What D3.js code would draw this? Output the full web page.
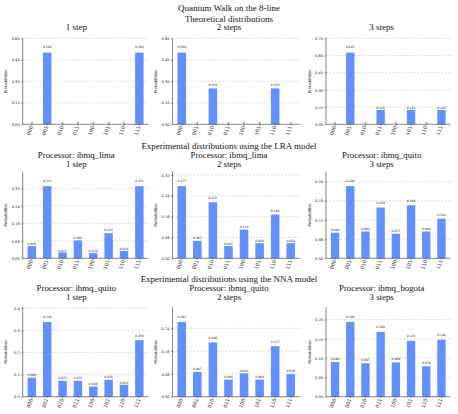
<!DOCTYPE html>
<html><head><meta charset="utf-8">
<script src="https://cdn.jsdelivr.net/npm/d3@7"></script>
<style>html,body{margin:0;padding:0;background:#fff;}svg{display:block;}</style>
</head><body>
<svg id="c" width="458" height="414"></svg>
<script>
// ---- data ----
const states = ["000","001","010","011","100","101","110","111"];
const theory1 = [0, 0.5, 0, 0, 0, 0, 0, 0.5];
const theory2 = [0.5, 0, 0.25, 0, 0, 0, 0.25, 0];
const theory3 = [0, 0.625, 0, 0.125, 0, 0.125, 0, 0.125];
const lraLima1 = [0.056, 0.331, 0.027, 0.082, 0.024, 0.115, 0.034, 0.331];
const lraLima2 = [0.277, 0.067, 0.215, 0.047, 0.110, 0.058, 0.168, 0.058];
const lraQuito3 = [0.080, 0.226, 0.084, 0.159, 0.077, 0.166, 0.084, 0.124];
const nnaQuito1 = [0.086, 0.338, 0.072, 0.072, 0.046, 0.076, 0.054, 0.256];
const nnaQuito2 = [0.262, 0.087, 0.190, 0.060, 0.082, 0.060, 0.177, 0.079];
const nnaBogota3 = [0.090, 0.194, 0.087, 0.168, 0.089, 0.145, 0.079, 0.148];

const ticksT12 = [0, 0.15, 0.30, 0.45, 0.60];
const ticksT3 = [0, 0.15, 0.30, 0.45, 0.60, 0.75];
const ticksL12 = [0, 0.08, 0.16, 0.24, 0.32];
const ticksL3 = [0, 0.06, 0.12, 0.18, 0.24];
const ticksN1 = [0, 0.1, 0.2, 0.3, 0.4];
const ticksN2 = [0, 0.08, 0.16, 0.24];
const ticksN3 = [0, 0.05, 0.10, 0.15, 0.20];

const figTitle = "Quantum Walk on the 8-line";
const rowTitles = ["Theoretical distributions",
  "Experimental distributions using the LRA model",
  "Experimental distributions using the NNA model"];
const stepTitles = ["1 step", "2 steps", "3 steps"];
const processors = [null, ["ibmq_lima","ibmq_lima","ibmq_quito"], ["ibmq_quito","ibmq_quito","ibmq_bogota"]];

const panelValues = [[theory1, theory2, theory3],[lraLima1, lraLima2, lraQuito3],[nnaQuito1, nnaQuito2, nnaBogota3]];
const panelTicks = [[ticksT12, ticksT12, ticksT3],[ticksL12, ticksL12, ticksL3],[ticksN1, ticksN2, ticksN3]];
const tickDecimals = [[2,2,2],[2,2,2],[1,2,2]];

// ---- layout ----
const colX = [[22.7,148.5],[172.5,300],[326,450.5]];
const colCenter = [76.3, 229, 381.7];
const rowY = [[38.3,124.3],[171.7,258.3],[307,396.7]];
const serif = "'Liberation Serif','Times New Roman',serif";
const sans = "'DejaVu Sans',sans-serif";
const barColor = "#648fff";

const svg = d3.select("#c");

function title(x, y, t, fs){
  svg.append("text").attr("x", x).attr("y", y).attr("text-anchor","middle")
    .attr("font-family", serif).attr("font-size", fs || 9).attr("fill","#111").text(t);
}
title(229, 10.5, figTitle);
title(229, 21.5, rowTitles[0]);
stepTitles.forEach((s,i)=>title(colCenter[i], 30, s));
title(229, 149.0, rowTitles[1]);
stepTitles.forEach((s,i)=>{ title(colCenter[i], 157.8, "Processor: " + processors[1][i], 8.8); title(colCenter[i], 166.6, s, 8.8); });
title(229, 282.4, rowTitles[2]);
stepTitles.forEach((s,i)=>{ title(colCenter[i], 291.2, "Processor: " + processors[2][i], 8.8); title(colCenter[i], 299.8, s, 8.8); });

for (let r=0;r<3;r++){
  for (let c=0;c<3;c++){
    const vals = panelValues[r][c];
    const ticks = panelTicks[r][c];
    const dec = tickDecimals[r][c];
    const x0 = colX[c][0], x1 = colX[c][1];
    const yTop = rowY[r][0], yBot = rowY[r][1];
    const x = d3.scaleBand().domain(states).range([x0, x1]).paddingInner(0.45).paddingOuter(0.32);
    const y = d3.scaleLinear().domain([0, 1.2*d3.max(vals)]).range([yBot, yTop]);
    const g = svg.append("g");
    // grid
    g.selectAll("line.grid").data(ticks.filter(t=>t>0)).enter().append("line")
      .attr("x1", x0).attr("x2", x1).attr("y1", d=>y(d)).attr("y2", d=>y(d))
      .attr("stroke","#c4c4c4").attr("stroke-width",0.6).attr("stroke-dasharray","2,1.5");
    // bars
    g.selectAll("rect").data(vals).enter().append("rect")
      .attr("x",(d,i)=>x(states[i])).attr("width",x.bandwidth())
      .attr("y",d=>y(d)).attr("height",d=>yBot-y(d)).attr("fill",barColor);
    // bar labels
    g.selectAll("text.bl").data(vals).enter().append("text")
      .attr("x",(d,i)=>x(states[i])+x.bandwidth()/2).attr("y",d=>y(1.05*d)-0.6)
      .attr("text-anchor","middle").attr("font-family",sans).attr("font-size",3)
      .attr("fill","#222").text(d=> d>=1e-3 ? d.toFixed(3) : "0");
    // y axis
    const ya = d3.axisLeft(y).tickValues(ticks).tickFormat(d=>d.toFixed(dec)).tickSize(1.5).tickPadding(1.5);
    const yg = g.append("g").attr("transform",`translate(${x0},0)`).call(ya);
    yg.select(".domain").attr("stroke","#333").attr("stroke-width",0.6)
      .attr("d", `M0,${yTop}V${yBot}`);
    yg.selectAll(".tick line").attr("stroke","#333").attr("stroke-width",0.5);
    yg.selectAll("text").attr("font-family",sans).attr("font-size",3.6).attr("fill","#222");
    // x axis
    const xa = d3.axisBottom(x).tickSize(1.5).tickPadding(1);
    const xg = g.append("g").attr("transform",`translate(0,${yBot})`).call(xa);
    xg.select(".domain").attr("d", `M${x0},0H${x1}`).attr("stroke","#333").attr("stroke-width",0.6);
    xg.selectAll(".tick line").attr("stroke","#333").attr("stroke-width",0.5);
    xg.selectAll("text").attr("font-family",sans).attr("font-size",5).attr("fill","#333")
      .attr("text-anchor","end").attr("dy",0).attr("y",0)
      .attr("transform","translate(1.2,2.5) rotate(-70)");
    // y label
    g.append("text").attr("transform",`translate(${x0-15.5},${(yTop+yBot)/2}) rotate(-90)`)
      .attr("text-anchor","middle").attr("font-family",sans).attr("font-size",3.8)
      .attr("fill","#222").text("Probabilities");
  }
}
</script>
</body></html>
